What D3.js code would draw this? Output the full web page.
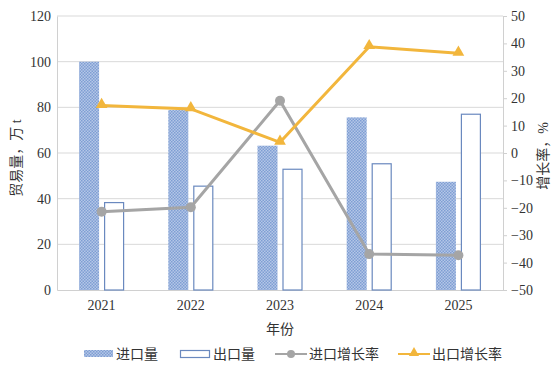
<!DOCTYPE html>
<html lang="zh">
<head>
<meta charset="UTF-8">
<title>贸易量与增长率</title>
<script src="https://d3js.org/d3.v7.min.js"></script>
<style>
  body { margin: 0; background: #fff; }
</style>
</head>
<body>
<svg id="chart"></svg>
<script>
const years = ["2021", "2022", "2023", "2024", "2025"];
const importVol = [100, 78.8, 63.2, 75.6, 47.4];
const exportVol = [38.5, 45.7, 53.1, 55.5, 77.2];
const importGrowth = [-21.4, -19.8, 19.1, -36.9, -37.3];
const exportGrowth = [17.3, 16.1, 3.9, 38.8, 36.4];
const leftTicks = [0, 20, 40, 60, 80, 100, 120];
const rightTicks = [-50, -40, -30, -20, -10, 0, 10, 20, 30, 40, 50];

const W = 560, H = 370;
const m = { left: 57, right: 503, top: 16, bottom: 290 };
const FONT = "'Liberation Serif', 'Times New Roman', 'Noto Sans CJK SC', serif";

const svg = d3.select("#chart").attr("width", W).attr("height", H);

// dotted fill for import bars
const defs = svg.append("defs");
const pat = defs.append("pattern").attr("id", "dots")
  .attr("patternUnits", "userSpaceOnUse").attr("width", 3).attr("height", 3);
pat.append("rect").attr("width", 3).attr("height", 3).attr("fill", "#b4c7e7");
pat.append("rect").attr("width", 1.5).attr("height", 1.5).attr("fill", "#7f9ed3");
pat.append("rect").attr("x", 1.5).attr("y", 1.5).attr("width", 1.5).attr("height", 1.5).attr("fill", "#7f9ed3");

const x = d3.scaleBand().domain(years).range([m.left, m.right]);
const yL = d3.scaleLinear().domain([0, 120]).range([m.bottom, m.top]);
const yR = d3.scaleLinear().domain([-50, 50]).range([m.bottom, m.top]);

// gridlines
svg.append("g").selectAll("line").data(leftTicks.slice(1)).join("line")
  .attr("x1", m.left).attr("x2", m.right)
  .attr("y1", d => yL(d)).attr("y2", d => yL(d))
  .attr("stroke", "#d9d9d9").attr("stroke-width", 1);

// axes
const axL = svg.append("g").attr("transform", `translate(${m.left},0)`)
  .call(d3.axisLeft(yL).tickValues(leftTicks).tickSize(0).tickPadding(6));
const axR = svg.append("g").attr("transform", `translate(${m.right},0)`)
  .call(d3.axisRight(yR).tickValues(rightTicks).tickSize(4).tickPadding(4).tickFormat(d3.format("d")));
const axB = svg.append("g").attr("transform", `translate(0,${m.bottom})`)
  .call(d3.axisBottom(x).tickSize(0).tickPadding(10));

[axL, axR, axB].forEach(g => {
  g.select(".domain").attr("stroke", "#d0d0d0");
  g.selectAll(".tick line").attr("stroke", "#d0d0d0");
  g.selectAll("text").attr("fill", "#333")
    .style("font-family", FONT).style("font-size", "14px");
});

// bars
const bw = 20, gap = 5;
svg.append("g").selectAll("rect").data(importVol).join("rect")
  .attr("x", (d, i) => x(years[i]) + x.bandwidth() / 2 - gap / 2 - bw)
  .attr("y", d => yL(d)).attr("width", bw)
  .attr("height", d => yL(0) - yL(d))
  .attr("fill", "url(#dots)");
svg.append("g").selectAll("rect").data(exportVol).join("rect")
  .attr("x", (d, i) => x(years[i]) + x.bandwidth() / 2 + gap / 2 + 0.5)
  .attr("y", d => yL(d) + 0.5).attr("width", bw - 1)
  .attr("height", d => yL(0) - yL(d) - 0.5)
  .attr("fill", "#fff").attr("stroke", "#6a89bf").attr("stroke-width", 1.2);

// lines
const cx = i => x(years[i]) + x.bandwidth() / 2;
const line = d3.line().x((d, i) => cx(i)).y(d => yR(d));
const gray = "#a5a5a5", orange = "#f2b63c";

svg.append("path").datum(importGrowth).attr("d", line)
  .attr("fill", "none").attr("stroke", gray).attr("stroke-width", 3);
svg.append("g").selectAll("circle").data(importGrowth).join("circle")
  .attr("cx", (d, i) => cx(i)).attr("cy", d => yR(d)).attr("r", 5).attr("fill", gray);

svg.append("path").datum(exportGrowth).attr("d", line)
  .attr("fill", "none").attr("stroke", orange).attr("stroke-width", 3);
const tri = d3.symbol().type(d3.symbolTriangle).size(60);
svg.append("g").selectAll("path").data(exportGrowth).join("path")
  .attr("d", tri).attr("fill", orange)
  .attr("transform", (d, i) => `translate(${cx(i)},${yR(d) - 1})`);

// axis titles
const label = (sel) => sel.attr("fill", "#333").style("font-family", FONT).style("font-size", "14px");
svg.append("text").attr("transform", "translate(21,158) rotate(-90)")
  .attr("text-anchor", "middle").call(label).text("贸易量，万 t");
svg.append("text").attr("transform", "translate(548,156) rotate(-90)")
  .attr("text-anchor", "middle").call(label).text("增长率，%");
svg.append("text").attr("x", (m.left + m.right) / 2).attr("y", 334)
  .attr("text-anchor", "middle").call(label).text("年份");

// legend
const lg = svg.append("g");
const ly = 354;
lg.append("rect").attr("x", 84).attr("y", ly - 4).attr("width", 29).attr("height", 7).attr("fill", "url(#dots)");
lg.append("text").attr("x", 116).attr("y", ly).attr("dy", "0.35em").call(label).text("进口量");
lg.append("rect").attr("x", 180.5).attr("y", ly - 3.5).attr("width", 29).attr("height", 7)
  .attr("fill", "#fff").attr("stroke", "#6a89bf").attr("stroke-width", 1.2);
lg.append("text").attr("x", 213).attr("y", ly).attr("dy", "0.35em").call(label).text("出口量");
lg.append("line").attr("x1", 275).attr("x2", 307).attr("y1", ly).attr("y2", ly)
  .attr("stroke", gray).attr("stroke-width", 2);
lg.append("circle").attr("cx", 291).attr("cy", ly).attr("r", 4).attr("fill", gray);
lg.append("text").attr("x", 309).attr("y", ly).attr("dy", "0.35em").call(label).text("进口增长率");
lg.append("line").attr("x1", 398).attr("x2", 430).attr("y1", ly).attr("y2", ly)
  .attr("stroke", orange).attr("stroke-width", 2);
lg.append("path").attr("d", d3.symbol().type(d3.symbolTriangle).size(45))
  .attr("fill", orange).attr("transform", `translate(414,${ly - 1})`);
lg.append("text").attr("x", 432).attr("y", ly).attr("dy", "0.35em").call(label).text("出口增长率");
</script>
</body>
</html>
